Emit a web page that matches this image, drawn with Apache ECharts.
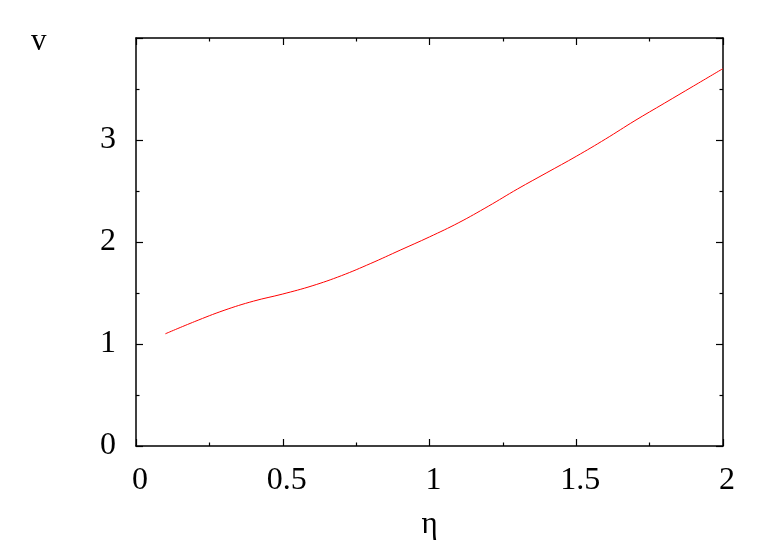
<!DOCTYPE html>
<html>
<head>
<meta charset="utf-8">
<script src="https://cdn.jsdelivr.net/npm/echarts@6/dist/echarts.min.js"></script>
<style>
  html, body { margin: 0; padding: 0; background: #fff; }
  #chart { width: 778px; height: 545px; }
</style>
</head>
<body>
<div id="chart"></div>
<script>
// values
const eta = [0.1, 0.2, 0.3, 0.4, 0.5, 0.6, 0.7, 0.8, 0.9, 1.0,
             1.1, 1.2, 1.3, 1.4, 1.5, 1.6, 1.7, 1.8, 1.9, 2.0];
const v = [1.10, 1.22, 1.33, 1.42, 1.49, 1.57, 1.67, 1.79, 1.92, 2.05,
           2.19, 2.35, 2.52, 2.68, 2.84, 3.01, 3.19, 3.36, 3.53, 3.70];
const xTicks = [0, 0.5, 1, 1.5, 2];
const yTicks = [0, 1, 2, 3];

const font = "'Liberation Serif', 'DejaVu Serif', serif";
const chart = echarts.init(document.getElementById("chart"));

const axisLine = { show: true, onZero: false, lineStyle: { color: "#000", width: 1.5 } };
const tick = { show: true, inside: true, length: 7, lineStyle: { color: "#000", width: 1.2 } };
const minor = { show: true, splitNumber: 2, length: 3.5, lineStyle: { color: "#000", width: 1.2 } };

const fmtX = (val) => (xTicks.includes(val) ? String(val) : "");
const fmtY = (val) => (yTicks.includes(val) ? String(val) : "");

const option = {
  animation: false,
  title: {
    text: "v",
    left: 26,
    top: 21,
    textStyle: { fontFamily: font, fontSize: 31, fontWeight: "normal", color: "#000" },
  },
  grid: { left: 136, right: 55, top: 38, bottom: 97 },
  xAxis: [
    {
      type: "value", min: 0, max: 2, interval: 0.5,
      name: "η", nameLocation: "middle", nameGap: 63,
      nameTextStyle: { fontFamily: font, fontSize: 31, color: "#000" },
      axisLine, axisTick: tick, minorTick: minor,
      splitLine: { show: false }, minorSplitLine: { show: false },
      axisLabel: { formatter: fmtX, margin: 19, fontFamily: font, fontSize: 32, color: "#000", padding: [0, 0, 0, 8] },
    },
    {
      type: "value", min: 0, max: 2, interval: 0.5, position: "top",
      axisLine, axisTick: tick, minorTick: minor,
      splitLine: { show: false }, axisLabel: { show: false },
    },
  ],
  yAxis: [
    {
      type: "value", min: 0, max: 4, interval: 1,
      axisLine, axisTick: tick, minorTick: minor,
      splitLine: { show: false },
      axisLabel: { formatter: fmtY, margin: 20, fontFamily: font, fontSize: 32, color: "#000" },
    },
    {
      type: "value", min: 0, max: 4, interval: 1, position: "right",
      axisLine, axisTick: tick, minorTick: minor,
      splitLine: { show: false }, axisLabel: { show: false },
    },
  ],
  series: [
    {
      type: "line",
      data: eta.map((x, i) => [x, v[i]]),
      showSymbol: false,
      smooth: 0.4,
      lineStyle: { color: "#ff0000", width: 1 },
    },
  ],
};

chart.setOption(option);
</script>
</body>
</html>
